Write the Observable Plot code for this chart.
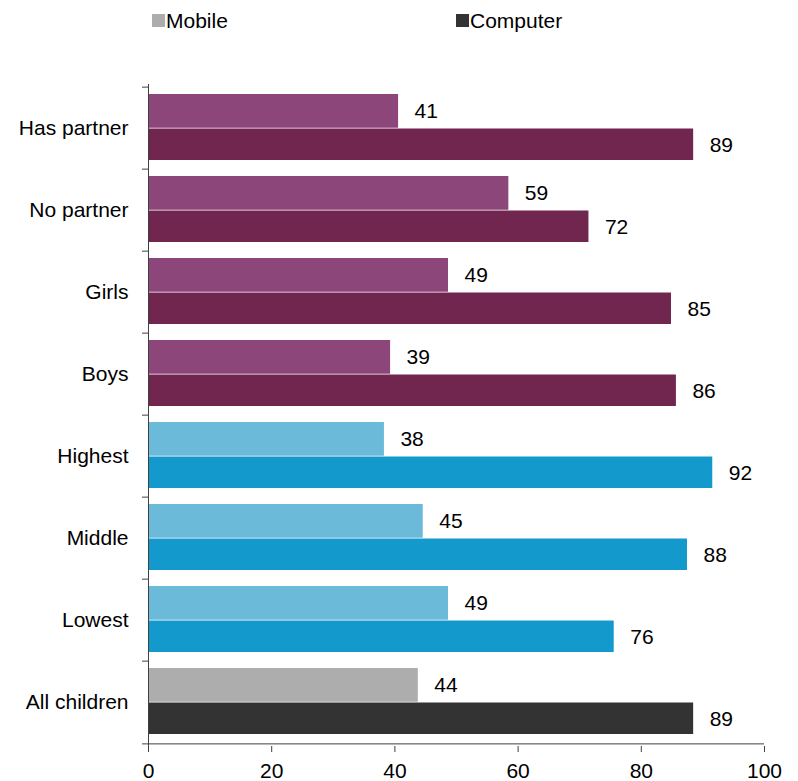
<!DOCTYPE html>
<html>
<head>
<meta charset="utf-8">
<script src="https://cdn.jsdelivr.net/npm/d3@7"></script>
<script src="https://cdn.jsdelivr.net/npm/@observablehq/plot@0.6"></script>
<style>
  html, body { margin: 0; padding: 0; background: #fff; }
  body { width: 798px; height: 781px; overflow: hidden; font-family: "Liberation Sans", Arial, sans-serif; }
  #legend { position: relative; height: 40px; width: 798px; font-size: 21px; color: #000; }
  #legend .sw { position: absolute; top: 14px; width: 13px; height: 13px; }
  #legend .lb { position: absolute; top: 10px; line-height: 21px; white-space: nowrap; }
</style>
</head>
<body>
<div id="legend"></div>
<div id="chart"></div>
<script>
// ---- data ----
const categories = ["Has partner", "No partner", "Girls", "Boys", "Highest", "Middle", "Lowest", "All children"];
const groups     = ["partner", "partner", "gender", "gender", "income", "income", "income", "all"];
const mobile     = [40.6, 58.5, 48.7, 39.3, 38.3, 44.6, 48.7, 43.8];
const computer   = [88.5, 71.5, 84.9, 85.7, 91.6, 87.5, 75.6, 88.5];
const seriesNames = ["Mobile", "Computer"];
const xTicks = [0, 20, 40, 60, 80, 100];

// ---- styles ----
const palette = {
  partner: {Mobile: "#8c4679", Computer: "#71264f"},
  gender:  {Mobile: "#8c4679", Computer: "#71264f"},
  income:  {Mobile: "#6bbad9", Computer: "#1499cd"},
  all:     {Mobile: "#adadad", Computer: "#333333"}
};
const legendColors = {Mobile: "#adadad", Computer: "#333333"};
const legendPos = {Mobile: 152, Computer: 456};

// legend
const leg = document.getElementById("legend");
for (const s of seriesNames) {
  const sw = document.createElement("div");
  sw.className = "sw";
  sw.style.left = legendPos[s] + "px";
  sw.style.background = legendColors[s];
  leg.appendChild(sw);
  const lb = document.createElement("div");
  lb.className = "lb";
  lb.style.left = (legendPos[s] + 14) + "px";
  lb.textContent = s;
  leg.appendChild(lb);
}

const rows = categories.map((c, i) => ({category: c, group: groups[i], mobile: mobile[i], computer: computer[i]}));

const W = 798, H = 741, mT = 44, mB = 35, mL = 148, mR = 34;
const bw = (H - mT - mB) / categories.length;
const gapTop = 7, hMobile = 34.5, gapBottom = 9;
const axisColor = "#404040";
const fmt = d => String(Math.round(d));

const chart = Plot.plot({
  width: W, height: H,
  marginTop: mT, marginBottom: mB, marginLeft: mL, marginRight: mR,
  style: {fontFamily: "'Liberation Sans', Arial, sans-serif", fontSize: "21px", color: "#000", background: "#fff"},
  x: {domain: [0, 100]},
  y: {domain: categories, padding: 0},
  marks: [
    Plot.barX(rows, {
      x: "mobile", y: "category",
      fill: d => palette[d.group].Mobile,
      insetTop: gapTop, insetBottom: bw - gapTop - hMobile
    }),
    Plot.barX(rows, {
      x: "computer", y: "category",
      fill: d => palette[d.group].Computer,
      insetTop: gapTop + hMobile, insetBottom: gapBottom
    }),
    Plot.text(rows, {
      x: "mobile", y: "category", text: d => fmt(d.mobile),
      textAnchor: "start", dx: 16, dy: gapTop + hMobile / 2 - bw / 2, fill: "#000"
    }),
    Plot.text(rows, {
      x: "computer", y: "category", text: d => fmt(d.computer),
      textAnchor: "start", dx: 16, dy: (gapTop + hMobile + bw - gapBottom) / 2 - bw / 2 + 0.5, fill: "#000"
    }),
    Plot.ruleX([0], {stroke: axisColor}),
    Plot.ruleY([categories[categories.length - 1]], {dy: bw / 2, stroke: axisColor}),
    Plot.axisY({tickSize: 0, tickPadding: 20, fill: "#000", label: null}),
    Plot.axisY({tickSize: 6, tickFormat: () => "", dy: -bw / 2, stroke: axisColor, label: null}),
    Plot.axisY({ticks: [categories[categories.length - 1]], tickSize: 6, tickFormat: () => "", dy: bw / 2, stroke: axisColor, label: null}),
    Plot.axisX({ticks: xTicks, tickSize: 6, tickPadding: 11, tickFormat: d => String(d), stroke: axisColor, fill: "#000", label: null})
  ]
});
document.getElementById("chart").appendChild(chart);
</script>
</body>
</html>
